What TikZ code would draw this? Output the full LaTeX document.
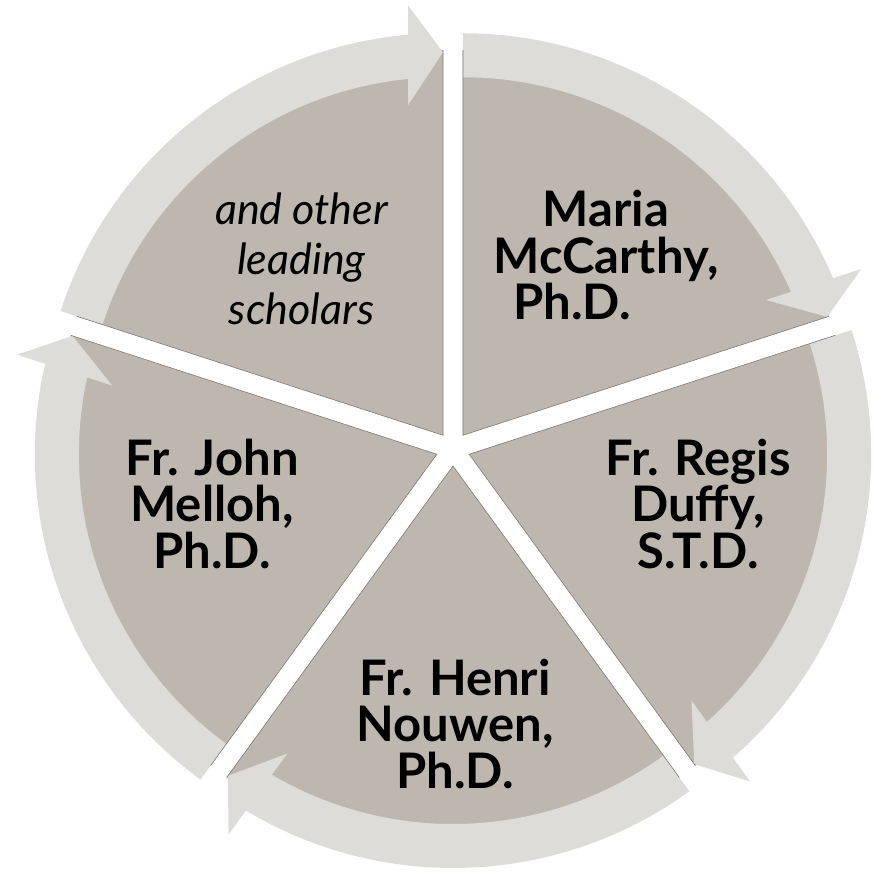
\documentclass[tikz,border=0pt]{standalone}
\usepackage{fontspec}
\setmainfont{Lato}
\usetikzlibrary{calc}
\definecolor{sectorfill}{RGB}{189,183,176}
\definecolor{ringfill}{RGB}{221,220,216}
\definecolor{edgeline}{RGB}{128,123,118}
\begin{document}
\begin{tikzpicture}[x=1pt,y=1pt,
  sector/.style={fill=sectorfill},
  ringarrow/.style={fill=ringfill},
  gapedge/.style={draw=edgeline, line width=0.6pt},
  boldlabel/.style={font=\bfseries\fontsize{49}{46.5}\selectfont, align=center, anchor=base, inner sep=0pt},
  italiclabel/.style={font=\itshape\fontsize{43}{50}\selectfont, align=center, anchor=base, inner sep=0pt}]
\useasboundingbox[fill=white] (0,0) rectangle (875,871);
\coordinate (C) at (453,422);
% sectors
\foreach \s in {90,18,-54,-126,162} {
  \pgfmathsetmacro{\e}{\s-72}
  \pgfmathsetmacro{\b}{\s-36}
  \begin{scope}[shift={(C)}, shift={(\b:17)}]
    \fill[sector] (0,0) -- (\s:385) arc[start angle=\s, end angle=\e, radius=385] -- cycle;
  \end{scope}
}
% circular arrows
\foreach \s in {90,18,-54,-126,162} {
  \pgfmathsetmacro{\e}{\s-72}
  \pgfmathsetmacro{\b}{\s-36}
  \pgfmathsetmacro{\ep}{\e+90}
  \pgfmathsetmacro{\eo}{\e+asin(35/402)}
  \pgfmathsetmacro{\ei}{\e+asin(35/358)}
  \begin{scope}[shift={(C)}, shift={(\b:17)}]
    \fill[ringarrow] (\s:402) arc[start angle=\s, end angle=\eo, radius=402]
      -- ($(\e:430)+(\ep:35)$) -- (\e:383) -- ($(\e:330)+(\ep:35)$)
      -- (\ei:358) arc[start angle=\ei, end angle=\s, radius=358] -- cycle;
    \draw[gapedge] (\s:385) -- (0,0) -- (\e:385);
  \end{scope}
}
% labels (anchor = baseline of last line)
\node[boldlabel] (maria) at (606,551) {Maria\\McCarthy,\\Ph.D.\hspace*{68pt}};
\node[boldlabel] (regis) at (698,303) {Fr. Regis\\Duffy,\\S.T.D.};
\node[boldlabel] (henri) at (455,83) {\fontsize{49}{50.5}\selectfont Fr. Henri\\Nouwen,\\Ph.D.};
\node[boldlabel] (john) at (212,303) {Fr. John\\Melloh,\\Ph.D.};
\node[italiclabel] (others) at (301.5,546) {and other\\leading\\scholars};
\end{tikzpicture}
\end{document}
